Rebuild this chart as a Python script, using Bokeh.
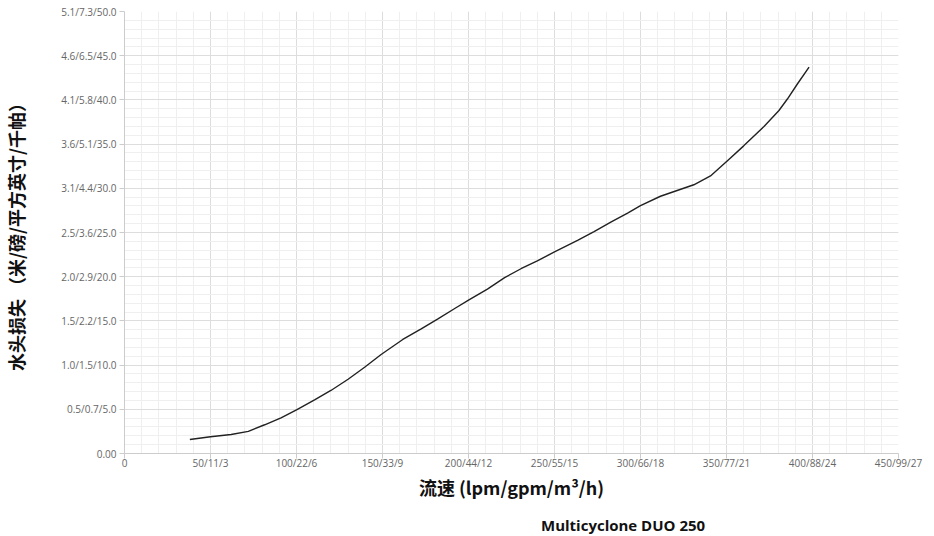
from bokeh.plotting import figure
from bokeh.models import FixedTicker, Legend, LegendItem, ColumnDataSource, Range1d
from bokeh.layouts import column
from bokeh.embed import file_html
from bokeh.resources import INLINE

# ---- data ----
flow = [38, 50, 62, 72, 81.5, 91, 100, 110.5, 120, 130, 139.6, 149.2, 161.8, 172.5,
        182, 192, 200.5, 211, 221, 230.5, 240, 250, 263.4, 273, 283, 292.5, 300,
        311.6, 321.3, 331, 340.7, 346.5, 350.4, 360, 371.8, 380.5, 385.4, 391.2, 398]
head_loss = [1.58, 1.9, 2.15, 2.5, 3.25, 4.04, 4.94, 6.07, 7.13, 8.4, 9.76, 11.2, 12.9, 14.1,
             15.2, 16.4, 17.4, 18.6, 19.9, 20.9, 21.8, 22.8, 24.1, 25.1, 26.2, 27.2, 28.05,
             29.1, 29.75, 30.4, 31.4, 32.4, 33.1, 34.8, 37.0, 38.8, 40.1, 41.8, 43.7]
series_name = "Multicyclone DUO 250"

x_ticks = [0, 50, 100, 150, 200, 250, 300, 350, 400, 450]
x_tick_labels = ["0", "50/11/3", "100/22/6", "150/33/9", "200/44/12", "250/55/15",
                 "300/66/18", "350/77/21", "400/88/24", "450/99/27"]
y_ticks = [0, 5, 10, 15, 20, 25, 30, 35, 40, 45, 50]
y_tick_labels = ["0.00", "0.5/0.7/5.0", "1.0/1.5/10.0", "1.5/2.2/15.0", "2.0/2.9/20.0",
                 "2.5/3.6/25.0", "3.1/4.4/30.0", "3.6/5.1/35.0", "4.1/5.8/40.0",
                 "4.6/6.5/45.0", "5.1/7.3/50.0"]
x_title = "流速 (lpm/gpm/m³/h)"
y_title = "水头损失 （米/磅/平方英寸/千帕）"

LINE_COLOR = "#222222"
LINE_WIDTH = 1.4

src = ColumnDataSource(dict(x=flow, y=head_loss))

# ---- main chart ----
p = figure(width=934, height=506, output_backend="svg", toolbar_location=None,
           x_range=Range1d(0, 450), y_range=Range1d(0, 50),
           min_border_left=123, min_border_right=36, min_border_top=11, min_border_bottom=53)
p.outline_line_color = None
p.background_fill_color = "white"

x_minor = [v for v in range(0, 451, 10)]
y_minor = [v for v in range(0, 51, 1)]
p.xaxis.ticker = FixedTicker(ticks=x_ticks, minor_ticks=x_minor)
p.yaxis.ticker = FixedTicker(ticks=y_ticks, minor_ticks=y_minor)
p.xaxis.major_label_overrides = {t: l for t, l in zip(x_ticks, x_tick_labels)}
p.yaxis.major_label_overrides = {t: l for t, l in zip(y_ticks, y_tick_labels)}

for ax in (p.xaxis, p.yaxis):
    ax.axis_line_color = "#cccccc"
    ax.major_tick_line_color = "#cccccc"
    ax.major_tick_out = 5
    ax.major_tick_in = 0
    ax.minor_tick_line_color = None
    ax.major_label_text_font = "Open Sans"
    ax.major_label_text_font_size = "10px"
    ax.major_label_text_color = "#666666"
    ax.axis_label_text_font = "Noto Sans CJK SC"
    ax.axis_label_text_font_style = "bold"
    ax.axis_label_text_font_size = "18px"
    ax.axis_label_text_color = "#111111"

p.xaxis.axis_label = x_title
p.yaxis.axis_label = y_title
p.xaxis.major_label_standoff = -3
p.yaxis.major_label_standoff = 3
p.xaxis.axis_label_standoff = 1
p.yaxis.axis_label_standoff = 29

for g in (p.xgrid, p.ygrid):
    g.grid_line_color = "#dddddd"
    g.grid_line_width = 1
    g.minor_grid_line_color = "#efefef"
    g.minor_grid_line_width = 1
p.xgrid.ticker = p.xaxis.ticker
p.ygrid.ticker = p.yaxis.ticker

p.line("x", "y", source=src, line_color=LINE_COLOR, line_width=LINE_WIDTH)

# ---- legend strip below the chart ----
leg = figure(width=934, height=30, output_backend="svg", toolbar_location=None,
             x_range=Range1d(0, 1), y_range=Range1d(0, 1),
             x_axis_location=None, y_axis_location=None,
             min_border_left=0, min_border_right=0, min_border_top=0, min_border_bottom=0)
leg.outline_line_color = None
leg.grid.visible = False
leg_r = leg.line(x=[], y=[], line_color=LINE_COLOR, line_width=LINE_WIDTH)

legend = Legend(items=[LegendItem(label=series_name, renderers=[leg_r])], location=(382, 1),
                orientation="horizontal", label_text_font="Open Sans",
                label_text_font_style="bold", label_text_font_size="15px",
                label_text_color="#111111", glyph_width=27, label_standoff=8,
                glyph_height=18, label_height=18,
                padding=0, margin=0, border_line_color=None, background_fill_alpha=0)
leg.add_layout(legend, "center")

layout = column(p, leg, spacing=0)
open("out.html", "w").write(file_html(layout, INLINE))
